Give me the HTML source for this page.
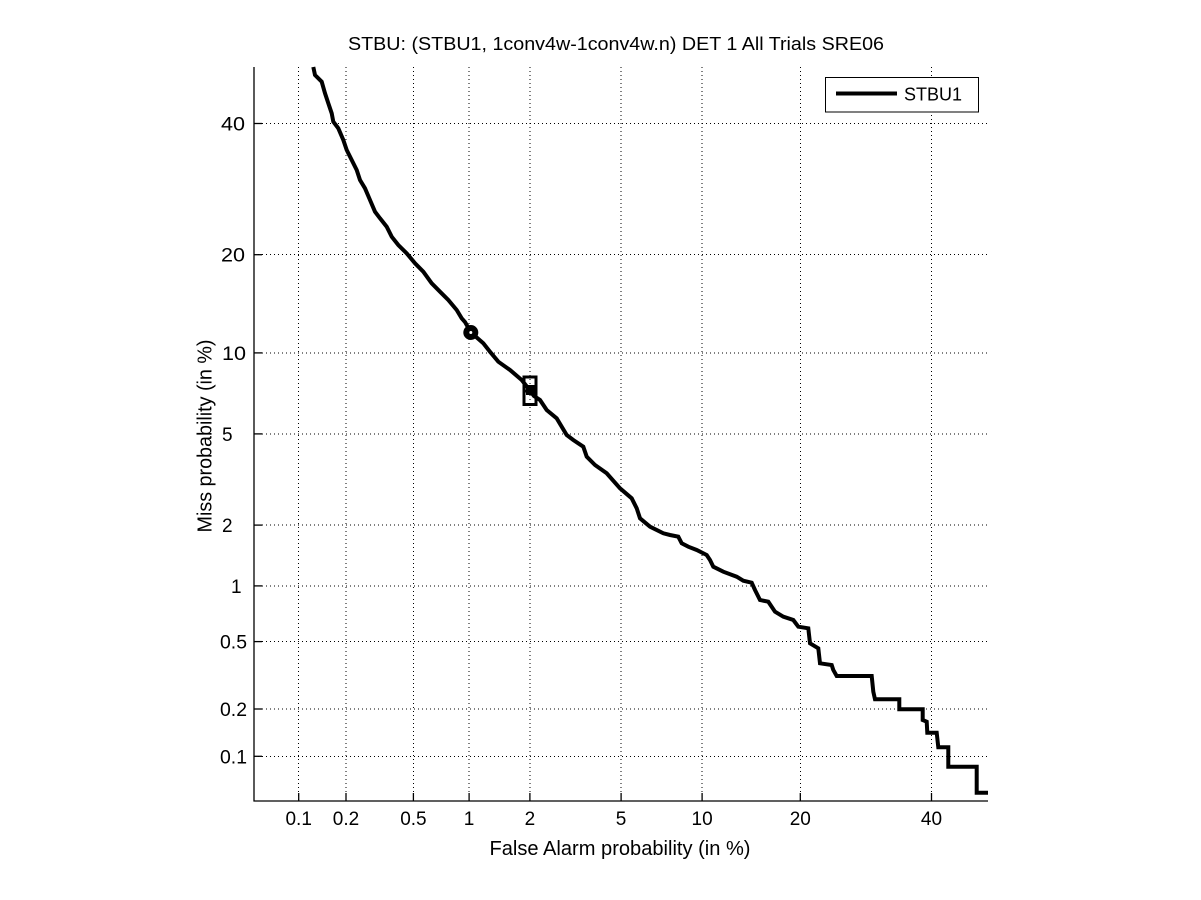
<!DOCTYPE html>
<html>
<head>
<meta charset="utf-8">
<style>
  html, body { margin: 0; padding: 0; background: #ffffff; }
  svg { display: block; }
  text { font-family: "Liberation Sans", Arial, Helvetica, sans-serif; fill: #000; }
</style>
</head>
<body>
<svg width="1201" height="900" viewBox="0 0 1201 900" xmlns="http://www.w3.org/2000/svg">
  <rect x="0" y="0" width="1201" height="900" fill="#ffffff"/>

  <!-- Grid lines (dotted) -->
  <g stroke="#000" stroke-width="1" stroke-dasharray="1,3" fill="none" shape-rendering="crispEdges">
    <line x1="298.7" y1="67" x2="298.7" y2="801"/>
    <line x1="346.0" y1="67" x2="346.0" y2="801"/>
    <line x1="413.4" y1="67" x2="413.4" y2="801"/>
    <line x1="469.1" y1="67" x2="469.1" y2="801"/>
    <line x1="529.9" y1="67" x2="529.9" y2="801"/>
    <line x1="621.1" y1="67" x2="621.1" y2="801"/>
    <line x1="702.1" y1="67" x2="702.1" y2="801"/>
    <line x1="800.3" y1="67" x2="800.3" y2="801"/>
    <line x1="931.5" y1="67" x2="931.5" y2="801"/>
    <line x1="254" y1="123.5" x2="988" y2="123.5"/>
    <line x1="254" y1="254.7" x2="988" y2="254.7"/>
    <line x1="254" y1="352.9" x2="988" y2="352.9"/>
    <line x1="254" y1="433.9" x2="988" y2="433.9"/>
    <line x1="254" y1="525.1" x2="988" y2="525.1"/>
    <line x1="254" y1="585.9" x2="988" y2="585.9"/>
    <line x1="254" y1="641.6" x2="988" y2="641.6"/>
    <line x1="254" y1="709.0" x2="988" y2="709.0"/>
    <line x1="254" y1="756.3" x2="988" y2="756.3"/>
  </g>

  <!-- Axes -->
  <g stroke="#000" stroke-width="1.3" fill="none">
    <line x1="254" y1="67" x2="254" y2="801.5"/>
    <line x1="253.5" y1="801" x2="988" y2="801"/>
    <line x1="298.7" y1="801" x2="298.7" y2="793"/>
    <line x1="346.0" y1="801" x2="346.0" y2="793"/>
    <line x1="413.4" y1="801" x2="413.4" y2="793"/>
    <line x1="469.1" y1="801" x2="469.1" y2="793"/>
    <line x1="529.9" y1="801" x2="529.9" y2="793"/>
    <line x1="621.1" y1="801" x2="621.1" y2="793"/>
    <line x1="702.1" y1="801" x2="702.1" y2="793"/>
    <line x1="800.3" y1="801" x2="800.3" y2="793"/>
    <line x1="931.5" y1="801" x2="931.5" y2="793"/>
    <line x1="254" y1="123.5" x2="262" y2="123.5"/>
    <line x1="254" y1="254.7" x2="262" y2="254.7"/>
    <line x1="254" y1="352.9" x2="262" y2="352.9"/>
    <line x1="254" y1="433.9" x2="262" y2="433.9"/>
    <line x1="254" y1="525.1" x2="262" y2="525.1"/>
    <line x1="254" y1="585.9" x2="262" y2="585.9"/>
    <line x1="254" y1="641.6" x2="262" y2="641.6"/>
    <line x1="254" y1="709.0" x2="262" y2="709.0"/>
    <line x1="254" y1="756.3" x2="262" y2="756.3"/>
  </g>

  <!-- X tick labels -->
  <g font-size="19" text-anchor="middle">
    <text x="298.7" y="825">0.1</text>
    <text x="346.0" y="825">0.2</text>
    <text x="413.4" y="825">0.5</text>
    <text x="469.1" y="825">1</text>
    <text x="529.9" y="825">2</text>
    <text x="621.1" y="825">5</text>
    <text x="702.1" y="825">10</text>
    <text x="800.3" y="825">20</text>
    <text x="931.5" y="825">40</text>
  </g>

  <!-- Y tick labels -->
  <g font-size="19">
    <text x="221" y="130.5" textLength="24" lengthAdjust="spacingAndGlyphs">40</text>
    <text x="221" y="261.7" textLength="24" lengthAdjust="spacingAndGlyphs">20</text>
    <text x="222" y="360" textLength="24" lengthAdjust="spacingAndGlyphs">10</text>
    <text x="222" y="441">5</text>
    <text x="222" y="532">2</text>
    <text x="231" y="593">1</text>
    <text x="220" y="648.6" textLength="27" lengthAdjust="spacingAndGlyphs">0.5</text>
    <text x="220" y="716" textLength="27" lengthAdjust="spacingAndGlyphs">0.2</text>
    <text x="220" y="763.3" textLength="27" lengthAdjust="spacingAndGlyphs">0.1</text>
  </g>

  <!-- Title -->
  <text x="348" y="50" font-size="18" textLength="536" lengthAdjust="spacingAndGlyphs">STBU: (STBU1, 1conv4w-1conv4w.n) DET 1 All Trials SRE06</text>

  <!-- Axis labels -->
  <text x="620" y="855" font-size="20" text-anchor="middle" textLength="261" lengthAdjust="spacingAndGlyphs">False Alarm probability (in %)</text>
  <text transform="translate(211.5,436) rotate(-90)" font-size="20" text-anchor="middle" textLength="193" lengthAdjust="spacingAndGlyphs">Miss probability (in %)</text>

  <!-- DET curve -->
  <polyline fill="none" stroke="#000" stroke-width="4" stroke-linejoin="miter" stroke-linecap="butt"
    points="313.3,67 315,75 321.7,81.7 325,93.3 328.3,103.3 331.7,113.3 333.3,121.7 338.3,128.3 343.3,140 346.7,150 351.7,160 356.7,170 360,180 365,188.3 370,200 375,211.7 380,218.3 386.7,226.7 391.7,236.7 398.3,245 406.7,253.3 415,263.3 423.3,271.7 431.7,283.3 440,291.7 448.3,300 456.7,310 461.7,318.3 465,322 471,332.5 483.3,343.3 490,351.7 498.3,361.7 510,370 521.7,380 528,388 534,396 540,400 546.7,410 556.7,418.3 566.7,435 573.3,440 583.3,446.7 586.7,456.7 595,465 606.7,473.3 620,488.3 631.7,498.3 636.7,508.3 640,518.3 650,526.7 653.3,528.3 663.3,533.3 670,535 678.3,536.7 681.7,543.3 688.3,546.7 696.7,550 706.7,555 710,560 713.3,566.7 723.3,571.7 736.7,576.7 743.3,580.7 751.7,582.7 755,590 760,600 768.3,601.7 775,611.7 783.3,616.7 793.3,620 798.3,626.7 808.3,628.3 810,643.3 818.3,648.3 820,663.3 831.7,665 833.3,670 836.7,676 871.7,676 873.3,691.7 875,699.3 899.3,699.3 899.3,709.3 922.7,709.3 922.7,720 926.7,721.7 927.3,732.7 936.7,732.7 938.3,747.3 948.3,747.3 948.3,766.7 976.7,766.7 976.7,792.7 988,792.7"/>

  <!-- Circle marker -->
  <circle cx="470.8" cy="332.5" r="7.5" fill="#000"/>
  <circle cx="470.8" cy="332.5" r="1.5" fill="#fff"/>

  <!-- Square markers -->
  <rect x="524" y="377" width="12" height="14" fill="none" stroke="#000" stroke-width="3"/>
  <rect x="524" y="391" width="12" height="13.5" fill="none" stroke="#000" stroke-width="3"/>
  <rect x="526" y="385" width="9" height="10" fill="#000"/>

  <!-- Legend -->
  <rect x="825.5" y="77.5" width="153" height="34.5" fill="#fff" stroke="#000" stroke-width="1"/>
  <line x1="836" y1="93.5" x2="897" y2="93.5" stroke="#000" stroke-width="4"/>
  <text x="904" y="100.7" font-size="18">STBU1</text>
</svg>
</body>
</html>
